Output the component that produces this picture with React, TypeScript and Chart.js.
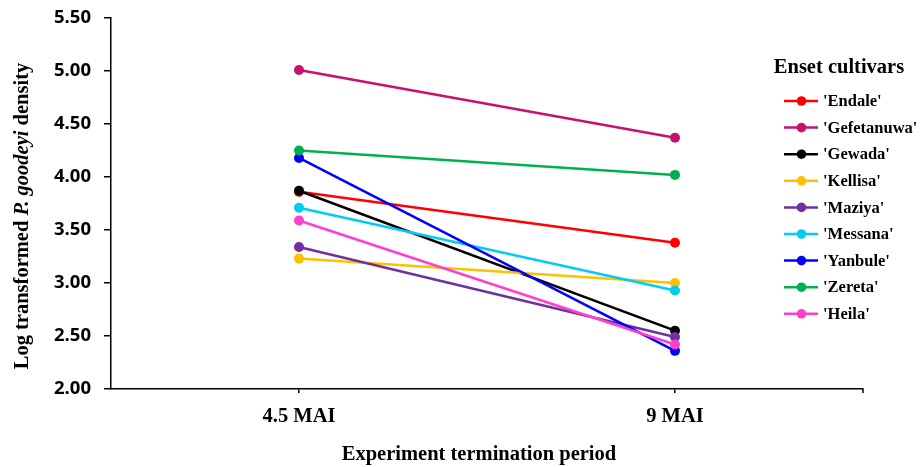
import React, { useEffect, useRef } from "react";
import { Chart, registerables } from "chart.js";

Chart.register(...registerables);

const categories = ["4.5 MAI", "9 MAI"];
const cultivars = ["'Endale'", "'Gefetanuwa'", "'Gewada'", "'Kellisa'", "'Maziya'", "'Messana'", "'Yanbule'", "'Zereta'", "'Heila'"];
const endale = [3.86, 3.38];
const gefetanuwa = [5.01, 4.37];
const gewada = [3.87, 2.55];
const kellisa = [3.23, 3.0];
const maziya = [3.34, 2.49];
const messana = [3.71, 2.93];
const yanbule = [4.18, 2.36];
const zereta = [4.25, 4.02];
const heila = [3.59, 2.42];
const seriesValues = [endale, gefetanuwa, gewada, kellisa, maziya, messana, yanbule, zereta, heila];
const colors = ["#FF0000", "#C8106E", "#000000", "#FFC000", "#7030A0", "#00CCF5", "#0000FF", "#00B050", "#FF3FCC"];
const yTickLabels = ["2.00", "2.50", "3.00", "3.50", "4.00", "4.50", "5.00", "5.50"];
const yMin = 2.0;
const yMax = 5.5;
const yStep = 0.5;
const xTitle = "Experiment termination period";
const yTitleParts = [
  { text: "Log transformed ", italic: false },
  { text: "P. goodeyi", italic: true },
  { text: " density", italic: false },
];
const legendTitle = "Enset cultivars";

const SERIF = "'Liberation Serif', 'Times New Roman', serif";

const decorPlugin = {
  id: "decor",
  afterDraw(chart: any) {
    const ctx = chart.ctx as CanvasRenderingContext2D;
    const area = chart.chartArea;
    ctx.save();
    ctx.fillStyle = "#000";

    // right end tick of x-axis
    ctx.strokeStyle = "#000";
    ctx.lineWidth = 1.5;
    ctx.beginPath();
    ctx.moveTo(area.right, area.bottom);
    ctx.lineTo(area.right, area.bottom + 4);
    ctx.stroke();

    // y title with mixed italic
    const fs = 20.5;
    const normalFont = `bold ${fs}px ${SERIF}`;
    const italicFont = `italic bold ${fs}px ${SERIF}`;
    let total = 0;
    const widths: number[] = [];
    for (const p of yTitleParts) {
      ctx.font = p.italic ? italicFont : normalFont;
      const w = ctx.measureText(p.text).width;
      widths.push(w);
      total += w;
    }
    ctx.save();
    ctx.translate(23, 216);
    ctx.rotate(-Math.PI / 2);
    ctx.textBaseline = "middle";
    ctx.textAlign = "left";
    let x = -total / 2;
    yTitleParts.forEach((p, i) => {
      ctx.font = p.italic ? italicFont : normalFont;
      ctx.fillText(p.text, x, 0);
      x += widths[i];
    });
    ctx.restore();

    // x title
    ctx.font = `bold ${fs}px ${SERIF}`;
    ctx.textAlign = "center";
    ctx.textBaseline = "middle";
    ctx.fillText(xTitle, 479, 455);

    // legend
    ctx.font = `bold 20.5px ${SERIF}`;
    ctx.textAlign = "center";
    ctx.fillText(legendTitle, 839, 68);
    ctx.font = `bold 16.5px ${SERIF}`;
    ctx.textAlign = "left";
    cultivars.forEach((name, i) => {
      const y = 101 + i * 26.6;
      ctx.strokeStyle = colors[i];
      ctx.fillStyle = colors[i];
      ctx.lineWidth = 2.5;
      ctx.beginPath();
      ctx.moveTo(784, y);
      ctx.lineTo(818, y);
      ctx.stroke();
      ctx.beginPath();
      ctx.arc(801.5, y, 4.8, 0, Math.PI * 2);
      ctx.fill();
      ctx.fillStyle = "#000";
      ctx.fillText(name, 823, y + 1);
    });
    ctx.restore();
  },
};

export default function App() {
  const ref = useRef<HTMLCanvasElement>(null);
  useEffect(() => {
    if (!ref.current) return;
    const n = cultivars.length;
    const chart = new Chart(ref.current, {
      type: "line",
      data: {
        labels: categories,
        datasets: cultivars.map((name, i) => ({
          label: name,
          data: seriesValues[i],
          borderColor: colors[i],
          backgroundColor: colors[i],
          pointBackgroundColor: colors[i],
          pointBorderColor: colors[i],
          pointBorderWidth: 0,
          pointRadius: 5,
          borderWidth: 2.5,
          tension: 0,
          order: n - i,
        })),
      },
      options: {
        animation: false,
        responsive: true,
        maintainAspectRatio: false,
        layout: { padding: { left: 0, top: 18, right: 58, bottom: 0 } },
        plugins: { legend: { display: false }, tooltip: { enabled: false } },
        scales: {
          x: {
            type: "category",
            offset: true,
            afterFit: (scale: any) => {
              scale.height = 78;
            },
            grid: {
              display: true,
              drawOnChartArea: false,
              drawTicks: true,
              tickLength: 4,
              offset: false,
              color: "#000",
              lineWidth: 1.5,
            },
            border: { display: true, color: "#000", width: 1.5 },
            ticks: {
              color: "#000",
              padding: 11,
              font: { family: SERIF, size: 20.5, weight: "bold" },
            },
          },
          y: {
            min: yMin,
            max: yMax,
            afterFit: (scale: any) => {
              scale.width = 111;
              scale.paddingTop = 0;
              scale.paddingBottom = 0;
            },
            grid: {
              display: true,
              drawOnChartArea: false,
              drawTicks: true,
              tickLength: 7,
              color: "#000",
              lineWidth: 1.5,
            },
            border: { display: true, color: "#000", width: 1.5 },
            ticks: {
              stepSize: yStep,
              color: "#000",
              padding: 13,
              font: { family: "'Open Sans', sans-serif", size: 18.5, weight: "bold" },
              callback: (_v: any, idx: number) => yTickLabels[idx],
            },
          },
        },
      },
      plugins: [decorPlugin],
    } as any);
    return () => chart.destroy();
  }, []);
  return (
    <div style={{ position: "fixed", left: 0, top: 0, width: 921, height: 467, background: "#fff" }}>
      <canvas ref={ref} />
    </div>
  );
}
